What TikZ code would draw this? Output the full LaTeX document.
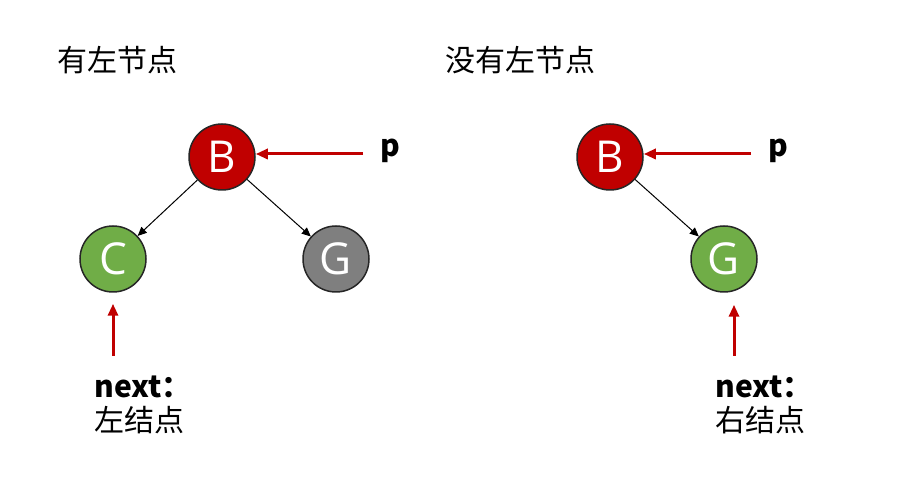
\documentclass[tikz,border=0pt]{standalone}
\usepackage{fontspec}
\usepackage{xcolor}
\setmainfont{Noto Sans CJK SC}
\newfontfamily\letterfont{Open Sans}
\usetikzlibrary{arrows.meta, positioning}

\definecolor{nodered}{HTML}{C00000}
\definecolor{nodegreen}{HTML}{70AD47}
\definecolor{nodegray}{HTML}{7F7F7F}
\definecolor{ringgray}{HTML}{262626}

\begin{document}
\begin{tikzpicture}[
    x=0.5pt, y=-0.5pt,
    every node/.style={font=\fontsize{15}{17}\selectfont},
    tree/.style={circle, draw=ringgray, line width=0.75pt, minimum size=33pt, inner sep=0pt,
      text=white, font=\letterfont\fontsize{22}{24}\selectfont},
    edge/.style={-{Triangle[length=4.5pt, width=4pt]}, line width=0.5pt},
    ptr/.style={-{Triangle[length=6pt, width=5pt]}, nodered, line width=1.5pt},
    label/.style={anchor=west, inner sep=0pt, align=left}
  ]
    \useasboundingbox (0,0) rectangle (911,485);

    % left: has left child
    \node[label] (ltitle) at (57,60) {有左节点};
    \node[tree, fill=nodered] (lB) at (222,157) {B};
    \node[tree, fill=nodegreen] (lC) at (113,259) {C};
    \node[tree, fill=nodegray] (lG) at (336,259) {G};
    \draw[edge] (lB) -- (lC);
    \draw[edge] (lB) -- (lG);

    \coordinate (lp) at (363,154);
    \node[anchor=base west, inner sep=0pt, font=\bfseries\fontsize{15}{17}\selectfont] (lptext) at (380,157) {p};
    \draw[ptr] (lp) -- (lp -| lB.east);

    \coordinate (lnext) at (113,356);
    \draw[ptr, shorten >=5.5pt] (lnext) -- (lnext |- lC.south);
    \node[label] (lnexttext) at (94,405) {\textbf{next：}\\左结点};

    % right: no left child
    \node[label] (rtitle) at (445,60) {没有左节点};
    \node[tree, fill=nodered] (rB) at (610,157) {B};
    \node[tree, fill=nodegreen] (rG) at (724,259) {G};
    \draw[edge] (rB) -- (rG);

    \coordinate (rp) at (751,154);
    \node[anchor=base west, inner sep=0pt, font=\bfseries\fontsize{15}{17}\selectfont] (rptext) at (768,157) {p};
    \draw[ptr] (rp) -- (rp -| rB.east);

    \coordinate (rnext) at (734,356);
    \draw[ptr, shorten >=6pt] (rnext) -- (rnext |- rG.south);
    \node[label] (rnexttext) at (715,405) {\textbf{next：}\\右结点};
  \end{tikzpicture}
\end{document}
